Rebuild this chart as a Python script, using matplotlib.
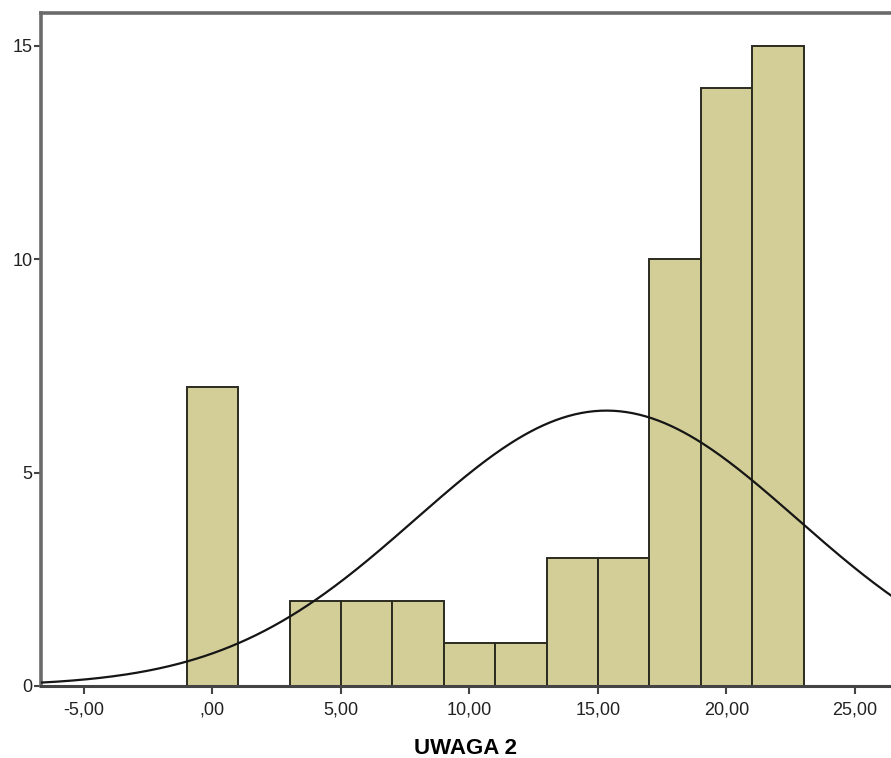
import numpy as np
import matplotlib.pyplot as plt

# histogram bins (width 2) and counts
bin_edges = [-1, 1, 3, 5, 7, 9, 11, 13, 15, 17, 19, 21, 23]
counts = [7, 0, 2, 2, 2, 1, 1, 3, 3, 10, 14, 15]

# normal curve fitted by SPSS
curve_mean = 15.33
curve_sd = 7.42
n_total = sum(counts)
bin_width = 2

xticks = [-5, 0, 5, 10, 15, 20, 25]
xtick_labels = ['-5,00', ',00', '5,00', '10,00', '15,00', '20,00', '25,00']
yticks = [0, 5, 10, 15]

plt.rcParams['font.family'] = ['Liberation Sans', 'DejaVu Sans']

fig = plt.figure(figsize=(8.91, 7.58), dpi=100)
ax = fig.add_axes([0.046, 0.095, 0.954, 0.888])

lefts = bin_edges[:-1]
for left, c in zip(lefts, counts):
    if c > 0:
        ax.bar(left, c, width=bin_width, align='edge', color='#d3ce97',
               edgecolor='#2b2b20', linewidth=1.4, zorder=2)

xs = np.linspace(-6.7, 26.5, 400)
ys = n_total * bin_width / (curve_sd * np.sqrt(2 * np.pi)) * np.exp(-(xs - curve_mean) ** 2 / (2 * curve_sd ** 2))
ax.plot(xs, ys, color='#151515', linewidth=1.6, zorder=3)

ax.set_xlim(-6.67, 26.4)
ax.set_ylim(0, 15.77)
ax.set_xticks(xticks)
ax.set_xticklabels(xtick_labels, fontsize=13)
ax.set_yticks(yticks)
ax.set_yticklabels([str(v) for v in yticks], fontsize=13)
ax.tick_params(axis='x', direction='out', length=6, width=1.5, color='#444444', labelcolor='#222222', pad=5)
ax.tick_params(axis='y', direction='out', length=5, width=1.5, color='#444444', labelcolor='#222222', pad=1)

for side in ['left', 'top']:
    ax.spines[side].set_color('#6a6a6a')
    ax.spines[side].set_linewidth(2.6)
ax.spines['bottom'].set_color('#444444')
ax.spines['bottom'].set_linewidth(2.2)
ax.spines['right'].set_visible(False)

ax.set_xlabel('UWAGA 2', fontsize=16, fontweight='bold', labelpad=14)

fig.savefig('out.png', dpi=100)
